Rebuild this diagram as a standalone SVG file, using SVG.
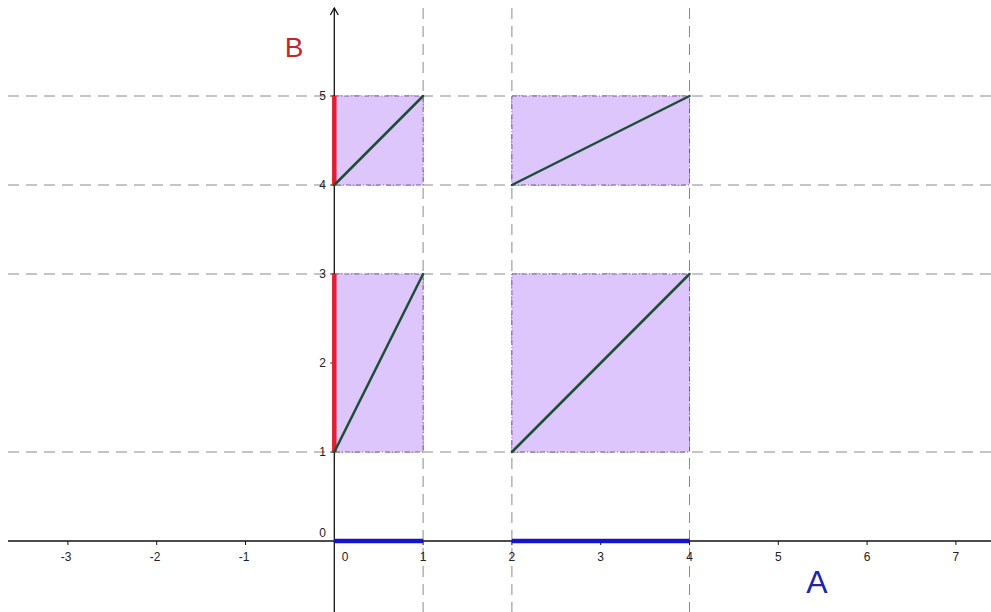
<svg xmlns="http://www.w3.org/2000/svg" width="991" height="612" viewBox="0 0 991 612">
<style>
.grid{stroke:#8a8a8a;stroke-width:1;stroke-dasharray:11 7;fill:none}
.rect{fill:#ddc6fb;stroke:#7a5a8a;stroke-width:1;stroke-dasharray:5 2 1 2}
.diag{stroke:#1c4e35;stroke-width:2.5;stroke-linecap:round}
.axis{stroke:#111;stroke-width:1.3;fill:none}
.tick{stroke:#111;stroke-width:1}
.lbl{font-family:"Liberation Sans",Arial,sans-serif;font-size:12px;fill:#222}
.red{stroke:#e0202c;stroke-width:4.5}
.blue{stroke:#1414c8;stroke-width:4.5}
</style>
<rect width="991" height="612" fill="#ffffff"/>
<g id="grid">
<line class="grid" x1="8" y1="96" x2="991" y2="96"/>
<line class="grid" x1="8" y1="185" x2="991" y2="185"/>
<line class="grid" x1="8" y1="274" x2="991" y2="274"/>
<line class="grid" x1="8" y1="452" x2="991" y2="452"/>
<line class="grid" x1="423.1" y1="8" x2="423.1" y2="612"/>
<line class="grid" x1="511.9" y1="8" x2="511.9" y2="612"/>
<line class="grid" x1="689.5" y1="8" x2="689.5" y2="612"/>
</g>
<g id="rects">
<rect class="rect" x="334.3" y="96" width="88.8" height="89"/>
<rect class="rect" x="334.3" y="274" width="88.8" height="178"/>
<rect class="rect" x="511.9" y="96" width="177.6" height="89"/>
<rect class="rect" x="511.9" y="274" width="177.6" height="178"/>
</g>
<g id="axes">
<line class="axis" x1="8" y1="541" x2="991" y2="541"/>
<line class="axis" x1="334.3" y1="612" x2="334.3" y2="8"/>
<polyline class="axis" points="330.3,15 334.3,8 338.3,15"/>
<g class="tick">
<line x1="67.9" y1="541" x2="67.9" y2="545"/>
<line x1="156.7" y1="541" x2="156.7" y2="545"/>
<line x1="245.5" y1="541" x2="245.5" y2="545"/>
<line x1="423.1" y1="541" x2="423.1" y2="545"/>
<line x1="511.9" y1="541" x2="511.9" y2="545"/>
<line x1="600.7" y1="541" x2="600.7" y2="545"/>
<line x1="689.5" y1="541" x2="689.5" y2="545"/>
<line x1="778.3" y1="541" x2="778.3" y2="545"/>
<line x1="867.1" y1="541" x2="867.1" y2="545"/>
<line x1="955.9" y1="541" x2="955.9" y2="545"/>
<line x1="330.3" y1="452" x2="334.3" y2="452"/>
<line x1="330.3" y1="363" x2="334.3" y2="363"/>
<line x1="330.3" y1="274" x2="334.3" y2="274"/>
<line x1="330.3" y1="185" x2="334.3" y2="185"/>
<line x1="330.3" y1="96" x2="334.3" y2="96"/>
</g>
<g class="lbl" text-anchor="middle">
<text x="66" y="561">-3</text>
<text x="155" y="561">-2</text>
<text x="244" y="561">-1</text>
<text x="345" y="561">0</text>
<text x="423.1" y="561">1</text>
<text x="511.9" y="561">2</text>
<text x="600.7" y="561">3</text>
<text x="689.5" y="561">4</text>
<text x="778.3" y="561">5</text>
<text x="867.1" y="561">6</text>
<text x="955.9" y="561">7</text>
</g>
<g class="lbl" text-anchor="end">
<text x="326" y="537">0</text>
<text x="326" y="456">1</text>
<text x="326" y="367">2</text>
<text x="326" y="278">3</text>
<text x="326" y="189">4</text>
<text x="326" y="100">5</text>
</g>
</g>
<g id="segments">
<line class="red" x1="334.3" y1="96" x2="334.3" y2="185"/>
<line class="red" x1="334.3" y1="274" x2="334.3" y2="452"/>
<line class="blue" x1="334.3" y1="541" x2="423.1" y2="541"/>
<line class="blue" x1="511.9" y1="541" x2="689.5" y2="541"/>
<line class="diag" x1="334.3" y1="185" x2="423.1" y2="96"/>
<line class="diag" x1="334.3" y1="452" x2="423.1" y2="274"/>
<line class="diag" x1="511.9" y1="185" x2="689.5" y2="96"/>
<line class="diag" x1="511.9" y1="452" x2="689.5" y2="274"/>
</g>
<text x="294" y="57" text-anchor="middle" font-family="Liberation Sans, Arial, sans-serif" font-size="28" fill="#c0282a">B</text>
<text x="817" y="593" text-anchor="middle" font-family="Liberation Sans, Arial, sans-serif" font-size="32" fill="#1e24a8">A</text>
</svg>
